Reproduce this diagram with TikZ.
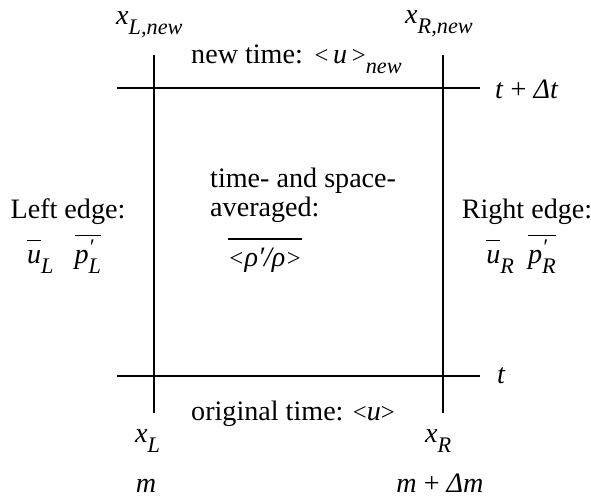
\documentclass[tikz,border=0pt]{standalone}
\usepackage{amsmath}
\usepackage{fontspec}
\setmainfont{Liberation Serif}
\usetikzlibrary{positioning}
\tikzset{
  gridline/.style={line width=1.5pt,black},
  lbl/.style={font=\fontsize{24}{24.7}\selectfont,inner sep=0pt,anchor=base west,align=left},
  lblc/.style={lbl,anchor=base,align=center},
}
\newcommand{\iv}[1]{\textit{#1}}
\newcommand{\lowsub}[1]{\raisebox{-0.36em}{\fontsize{19}{19}\selectfont\itshape #1}}
\newcommand{\primed}[2]{\iv{#1}\rlap{\raisebox{0.3em}{\fontsize{19}{19}\selectfont\itshape ′}}\lowsub{#2}}
\newcommand{\avgbr}[1]{{\fontsize{21}{21}\selectfont<}#1{\fontsize{21}{21}\selectfont>}}

\begin{document}
\begin{tikzpicture}[x=0.03cm,y=-0.03cm]
  \useasboundingbox (0,0) rectangle (591,498);
  % cell edges in x and t
  \coordinate (ltop) at (154,55);  \coordinate (lbot) at (154,413);
  \coordinate (rtop) at (443,55);  \coordinate (rbot) at (443,413);
  \coordinate (nwest) at (117,88); \coordinate (neast) at (480,88);
  \coordinate (owest) at (117,376);\coordinate (oeast) at (480,376);
  \draw[gridline] (ltop) -- (lbot);
  \draw[gridline] (rtop) -- (rbot);
  \draw[gridline] (nwest) -- (neast);
  \draw[gridline] (owest) -- (oeast);
  % top row
  \node[lbl] (xlnew) at (116,24) {\iv{x}\lowsub{L,new}};
  \node[lbl] (xrnew) at (405,23) {\iv{x}\lowsub{R,new}};
  \node[lbl] (newtime) at (191,63) {new time:\ \,\avgbr{\,\iv{u}\,}\lowsub{new}};
  \node[lbl,anchor=west] (tnew) at (495,89) {\iv{t} + \iv{Δt}};
  \node[lbl,anchor=west] (told) at (497,376) {\iv{t}};
  % middle row
  \node[lbl] (avg) at (210,216) {time- and space-\\averaged:};
  \node[lblc] (rhoavg) at (265,266) {$\overline{\hbox{\rule{0pt}{19.5pt}\iv{\avgbr{ρ′/ρ}}}}$};
  \node[lblc] (ledge) at (68,218) {Left edge:};
  \node[lblc] (lvals) at (64,263) {$\overline{\hbox{\rule{0pt}{16pt}\iv{u}}}$\lowsub{L}\ \ \ $\overline{\hbox{\rule{0pt}{17pt}\primed{p}{L}}}$};
  \node[lblc] (redge) at (527,218) {Right edge:};
  \node[lblc] (rvals) at (521,263) {$\overline{\hbox{\rule{0pt}{16pt}\iv{u}}}$\lowsub{R}\ \ $\overline{\hbox{\rule{0pt}{17pt}\primed{p}{R}}}$};
  % bottom row
  \node[lbl] (origtime) at (191,420) {original time: \avgbr{\iv{u}}};
  \node[lbl] (xl) at (135,442) {\iv{x}\lowsub{L}};
  \node[lbl] (xr) at (425,442) {\iv{x}\lowsub{R}};
  \node[lblc] (mleft) at (146,492) {\iv{m}};
  \node[lblc] (mright) at (440,492) {\iv{m} + \iv{Δm}};
\end{tikzpicture}
\end{document}
